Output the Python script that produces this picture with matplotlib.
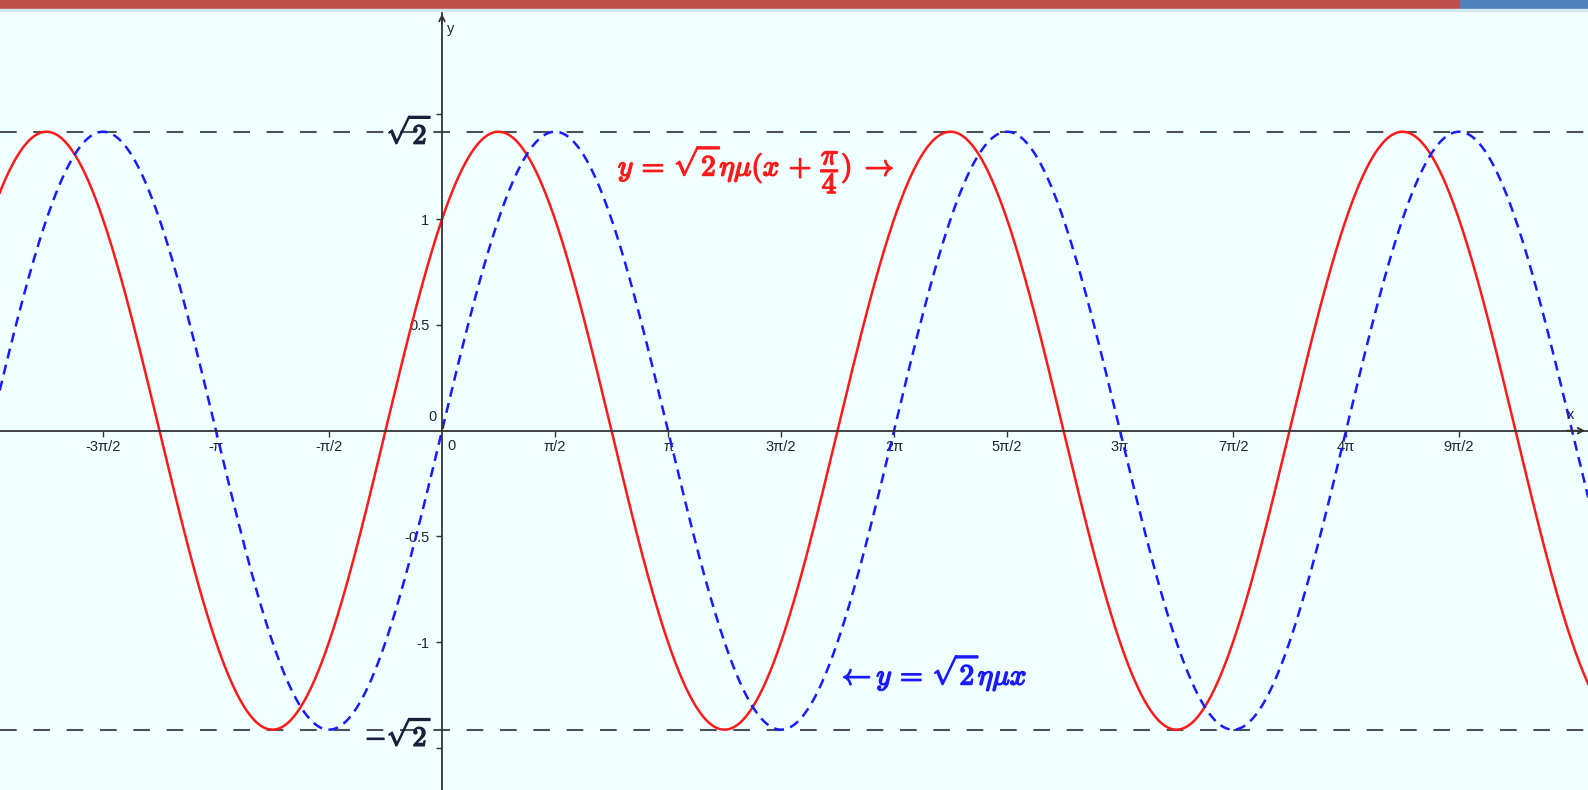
import numpy as np
import matplotlib
matplotlib.use("Agg")
import matplotlib.pyplot as plt
import matplotlib.patheffects as pe
from matplotlib.patches import Rectangle

plt.rcParams['mathtext.fontset'] = 'cm'
plt.rcParams['font.family'] = ['Liberation Sans', 'DejaVu Sans']

# data
x = np.linspace(-6.2, 16.0, 3000)
amp = np.sqrt(2)
phase = np.pi / 4
x_ticks = [k * np.pi / 2 for k in range(-3, 10) if k != 0]
x_labels = ['-3π/2', '-π', '-π/2', 'π/2', 'π', '3π/2', '2π', '5π/2', '3π',
            '7π/2', '4π', '9π/2']
y_ticks = [-1.5, -1, -0.5, 0.5, 1, 1.5]
y_labels = ['', '-1', '-0.5', '0.5', '1', '']

bg = '#F0FFFF'
red = '#FF1A1A'
blue = '#1A1AFF'
fig = plt.figure(figsize=(15.88, 7.90), dpi=100, facecolor=bg)
ax = fig.add_axes([0, 0, 1, 779 / 790])
ax.set_facecolor(bg)

# top decoration bar
fig.patches.append(Rectangle((0, 1 - 9 / 790), 1460 / 1588, 9 / 790,
                             transform=fig.transFigure, color='#C0504D'))
fig.patches.append(Rectangle((1460 / 1588, 1 - 9 / 790), 1 - 1460 / 1588, 9 / 790,
                             transform=fig.transFigure, color='#4F81BD'))
fig.patches.append(Rectangle((0, 1 - 11 / 790), 1, 2 / 790,
                             transform=fig.transFigure, color='#D4E6F0'))

ax.set_xlim(-6.144, 15.930)
ax.set_ylim(-1.6996, 1.9853)

# lines y = +-sqrt2
ax.axhline(amp, color='#4a5055', lw=1.5, dashes=(8, 8))
ax.axhline(-amp, color='#4a5055', lw=1.5, dashes=(8, 8))

ax.plot(x, amp * np.sin(x + phase), color=red, lw=1.8)
ax.plot(x, amp * np.sin(x), color=blue, lw=1.8, dashes=(4, 2.6))

# axes through origin
for s in ['top', 'right']:
    ax.spines[s].set_visible(False)
for s in ['left', 'bottom']:
    ax.spines[s].set_position(('data', 0))
    ax.spines[s].set_color('#333333')
    ax.spines[s].set_linewidth(1.3)
ax.set_xticks(x_ticks)
ax.set_xticklabels(x_labels)
ax.set_yticks(y_ticks)
ax.set_yticklabels(y_labels)
ax.tick_params(axis='both', direction='out', length=4, width=1, color='#333333',
               labelsize=10.5, labelcolor='#1f2633')
ax.tick_params(axis='x', pad=3)
ax.tick_params(axis='y', pad=5)

ax.annotate('', xy=(1, 0), xytext=(0.985, 0), xycoords=ax.get_yaxis_transform(),
            arrowprops=dict(arrowstyle='->', color='#333333', lw=1.3))
ax.annotate('', xy=(0, 1), xytext=(0, 0.98), xycoords=ax.get_xaxis_transform(),
            arrowprops=dict(arrowstyle='->', color='#333333', lw=1.3))
ax.text(15.69, 0.04, 'x', fontsize=10.5, color='#1f2633', ha='center', va='bottom')
ax.text(0.07, 1.90, 'y', fontsize=10.5, color='#1f2633', ha='left', va='center')
ax.text(-0.08, 0.03, '0', fontsize=10.5, color='#1f2633', ha='right', va='bottom')
ax.text(0.08, -0.04, '0', fontsize=10.5, color='#1f2633', ha='left', va='top')


def bold_text(xx, yy, s, color, size, **kw):
    ax.text(xx, yy, s, fontsize=size, color=color, va='center',
            path_effects=[pe.withStroke(linewidth=1.1, foreground=color)], **kw)


bold_text(-0.12, amp, r'$\sqrt{2}$', '#1a1f3a', 20, ha='right')
bold_text(-0.12, -amp - 0.02, r'$-\sqrt{2}$', '#1a1f3a', 20, ha='right')
bold_text(2.446, 1.24,
          r'$y\,=\,\sqrt{2}\eta\mu(x\,+\,\dfrac{\pi}{4})\;\rightarrow$', red, 21,
          ha='left')
bold_text(5.49, -1.142, r'$\leftarrow y\,=\,\sqrt{2}\eta\mu x$', blue, 21, ha='left')

fig.savefig('out.png', dpi=100, facecolor=bg)
